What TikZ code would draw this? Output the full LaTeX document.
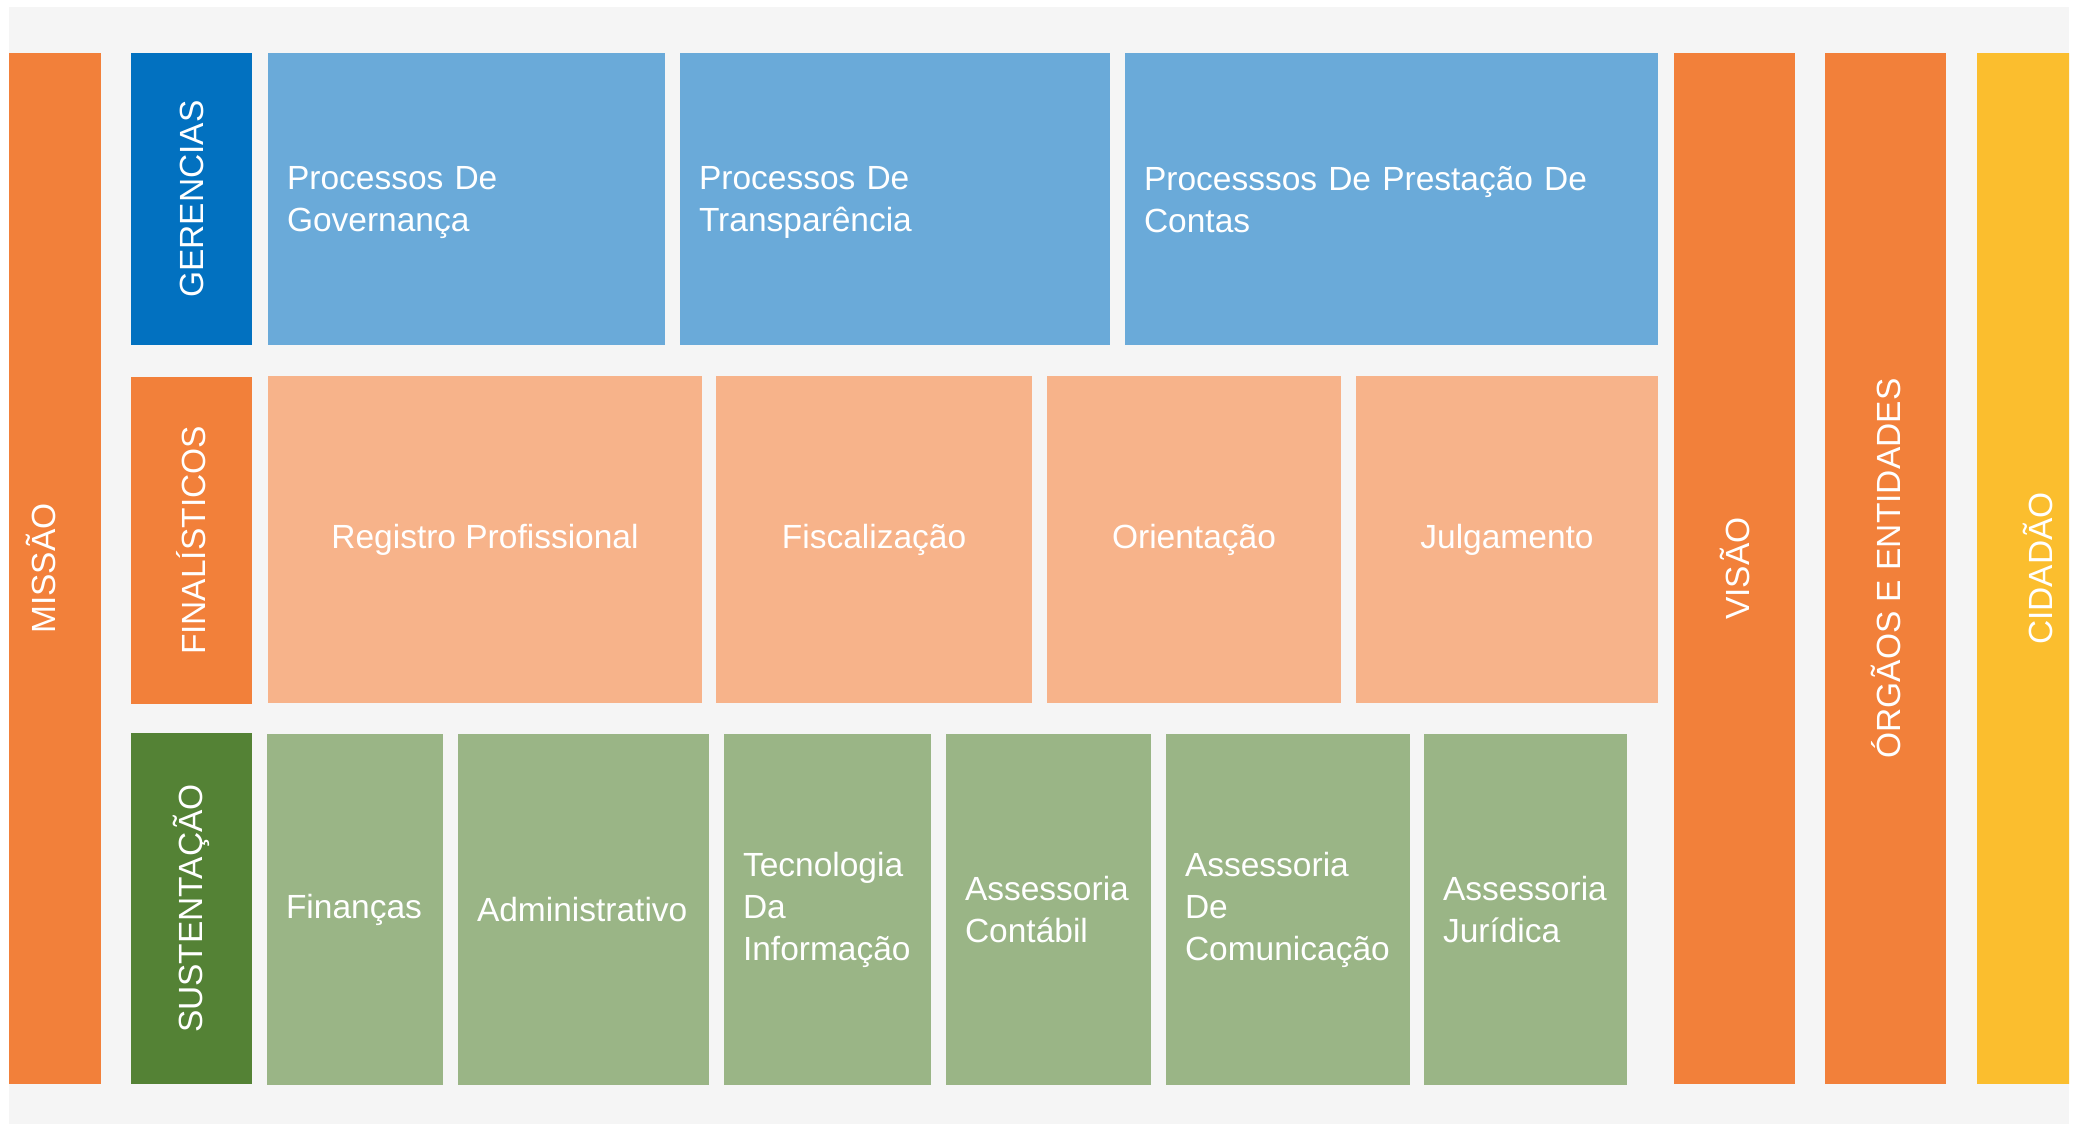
\documentclass[tikz,border=0pt]{standalone}
\usepackage{fontspec}
\setmainfont{Liberation Sans}
\definecolor{bgc}{HTML}{F5F5F5}
\definecolor{orng}{HTML}{F2803A}
\definecolor{dblue}{HTML}{0271C0}
\definecolor{lblue}{HTML}{6AAAD9}
\definecolor{peach}{HTML}{F7B38A}
\definecolor{dgreen}{HTML}{548235}
\definecolor{lgreen}{HTML}{9AB586}
\definecolor{yell}{HTML}{FBBE2E}
\begin{document}
\begin{tikzpicture}[x=1pt,y=-1pt,
  base/.style={inner sep=0pt, outer sep=0pt, text=white, font=\fontsize{33.5}{42}\selectfont},
  vbox/.style={base, rotate=90, align=center},
  cbox/.style={base, anchor=north west, align=center},
  lbox/.style={base, anchor=north west, align=left, inner xsep=19pt},
  bbox/.style={lbox, fill=lblue, minimum height=292pt}]
\useasboundingbox (0,0) rectangle (2073,1124);
\fill[white] (0,0) rectangle (2073,1124);
\fill[bgc] (9,7) rectangle (2069,1124);
\begin{scope}
\clip (9,7) rectangle (2069,1124);
% left column
\node[vbox, fill=orng, minimum width=1031pt, minimum height=121pt] (missao) at (40.5,568.5) {MISSÃO};
% row headers
\node[vbox, fill=dblue, minimum width=292pt, minimum height=121pt] (ger) at (191.5,199) {GERENCIAS};
\node[vbox, fill=orng, minimum width=327pt, minimum height=121pt] (fin) at (191.5,540.5) {FINALÍSTICOS};
\node[vbox, fill=dgreen, minimum width=351pt, minimum height=121pt] (sus) at (191.5,908.5) {SUSTENTAÇÃO};
% blue row
\node[bbox, text width=359pt] (b1) at (268,53) {Processos De\\\smash{Governança}};
\node[bbox, text width=392pt] (b2) at (680,53) {Processos De\\\smash{Transparência}};
\node[bbox, text width=495pt] (b3) at (1125,53) {Processsos De Prestação De\\\smash{Contas}};
% peach row
\node[cbox, fill=peach, minimum width=434pt, minimum height=327pt] (p1) at (268,376) {Registro Profissional};
\node[cbox, fill=peach, minimum width=316pt, minimum height=327pt] (p2) at (716,376) {Fiscalização};
\node[cbox, fill=peach, minimum width=294pt, minimum height=327pt] (p3) at (1047,376) {Orientação};
\node[cbox, fill=peach, minimum width=302pt, minimum height=327pt] (p4) at (1356,376) {Julgamento};
% green row
\node[lbox, fill=lgreen, text width=138pt, minimum height=351pt] (g1) at (267,734) {Finanças};
\node[lbox, fill=lgreen, text width=213pt, minimum height=351pt] (g2) at (458,734) {Administrativo};
\node[lbox, fill=lgreen, text width=169pt, minimum height=351pt] (g3) at (724,734) {Tecnologia\\Da\\Informação};
\node[lbox, fill=lgreen, text width=167pt, minimum height=351pt] (g4) at (946,734) {Assessoria\\Contábil};
\node[lbox, fill=lgreen, text width=206pt, minimum height=351pt] (g5) at (1166,734) {Assessoria\\De\\Comunicação};
\node[lbox, fill=lgreen, text width=165pt, minimum height=351pt] (g6) at (1424,734) {Assessoria\\Jurídica};
% right columns
\node[vbox, fill=orng, minimum width=1031pt, minimum height=121pt] (visao) at (1734.5,568.5) {VISÃO};
\node[vbox, fill=orng, minimum width=1031pt, minimum height=121pt] (orgaos) at (1885.5,568.5) {ÓRGÃOS E ENTIDADES};
\node[vbox, fill=yell, minimum width=1031pt, minimum height=121pt] (cidadao) at (2037.5,568.5) {CIDADÃO};
\end{scope}
\end{tikzpicture}
\end{document}
